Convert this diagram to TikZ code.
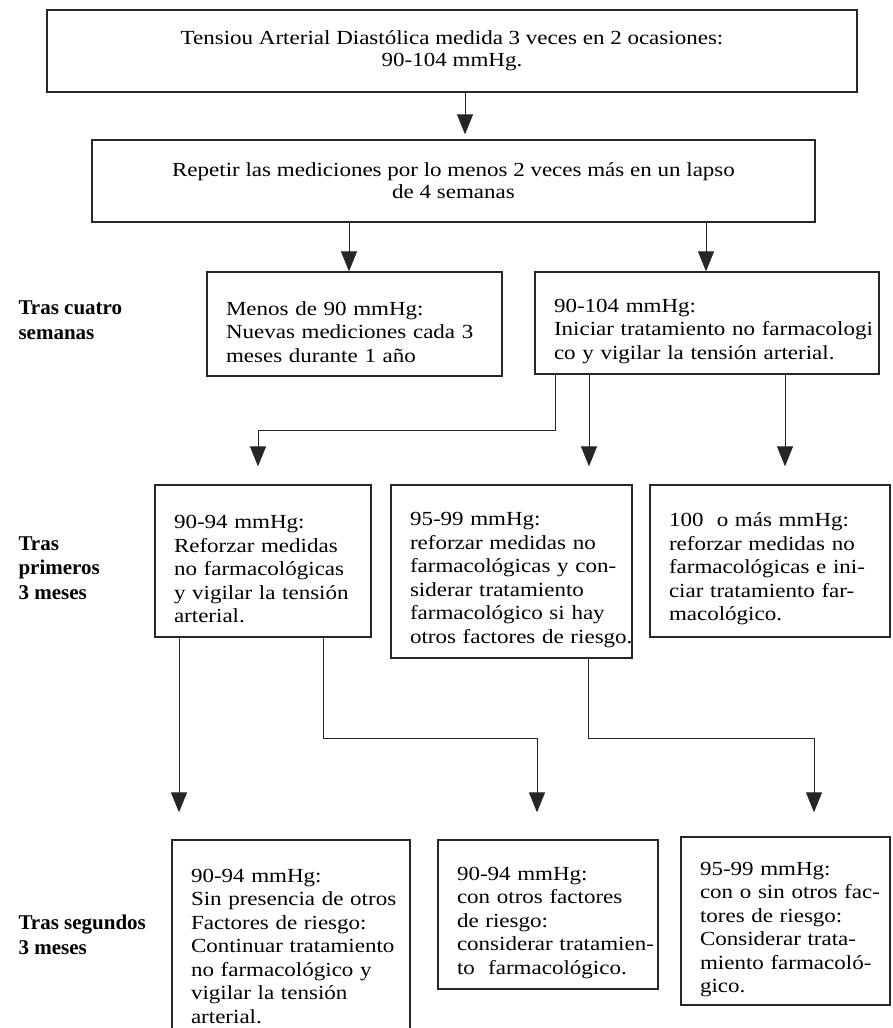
\documentclass[tikz,border=0pt]{standalone}
\usepackage{fontspec}
\setmainfont{Liberation Serif}[FakeStretch=1.15]
\newfontfamily\etiqfont{Liberation Serif}
\usepackage{tikz}
\usetikzlibrary{arrows.meta, positioning, calc}
\tikzset{
  caja/.style={draw=black!85, line width=1.3pt, align=left, inner xsep=19pt, inner ysep=0pt,
    font=\fontsize{20}{23.5}\selectfont,
    execute at begin node={\rightskip=0pt plus 1fil minus 1000pt\rule{0pt}{30pt}}},
  cajac/.style={draw=black!85, line width=1.3pt, align=center, inner sep=0pt,
    font=\fontsize{20}{22}\selectfont},
  etiqueta/.style={anchor=west, align=left, font=\etiqfont\fontsize{21}{24.5}\selectfont\bfseries},
  flecha/.style={draw=black!85, line width=1pt, -{Triangle[width=16pt,length=20pt]}}
}

\begin{document}
\begin{tikzpicture}[x=1pt, y=-1pt]
\useasboundingbox (0,0) rectangle (892,1028);

% Top
\node[cajac, minimum width=810, minimum height=82] (b1) at (452,51)
  {Tensiou Arterial Diastólica medida 3 veces en 2 ocasiones:\\90-104 mmHg.};
\node[cajac, minimum width=723, minimum height=82] (b2) at (453.5,181)
  {Repetir las mediciones por lo menos 2 veces más en un lapso\\de 4 semanas};

% Tras cuatro semanas
\node[etiqueta] (l1) at (15,320) {Tras cuatro\\semanas};
\node[caja, minimum width=295, minimum height=104, text width=257] (b3) at (354.5,324)
  {Menos de 90 mmHg:\\Nuevas mediciones cada 3\\meses durante 1 año};
\node[caja, minimum width=344, minimum height=102, text width=306] (b4) at (707,323)
  {90-104 mmHg:\\Iniciar tratamiento no farmacologi\\co y vigilar la tensión arterial.};

% Tras primeros 3 meses
\node[etiqueta] (l2) at (15,568) {Tras\\primeros\\3 meses};
\node[caja, minimum width=216, minimum height=152, text width=178] (b5) at (263,561)
  {90-94 mmHg:\\Reforzar medidas\\no farmacológicas\\y vigilar la tensión\\arterial.};
\node[caja, minimum width=241, minimum height=173, text width=203] (b6) at (511.5,571.5)
  {95-99 mmHg:\\reforzar medidas no\\farmacológicas y con-\\siderar tratamiento\\farmacológico si hay\\otros factores de riesgo.};
\node[caja, minimum width=240, minimum height=152, text width=202] (b7) at (770,561)
  {100\ \ o más mmHg:\\reforzar medidas no\\farmacológicas e ini-\\ciar tratamiento far-\\macológico.};

% Tras segundos 3 meses
\node[etiqueta] (l3) at (15,935) {Tras segundos\\3 meses};
\node[caja, minimum width=238, minimum height=196, text width=200] (b8) at (291,938)
  {90-94 mmHg:\\Sin presencia de otros\\Factores de riesgo:\\Continuar tratamiento\\no farmacológico y\\vigilar la tensión\\arterial.};
\node[caja, minimum width=220, minimum height=149, text width=182] (b9) at (548,914.5)
  {90-94 mmHg:\\con otros factores\\de riesgo:\\considerar tratamien-\\to\ \ farmacológico.};
\node[caja, minimum width=209, minimum height=168, text width=171] (b10) at (785.5,921)
  {95-99 mmHg:\\con o sin otros fac-\\tores de riesgo:\\Considerar trata-\\miento farmacoló-\\gico.};

% Arrows
\draw[flecha, shorten >=5pt] (465,0 |- b1.south) -- (465,0 |- b2.north);
\draw[flecha] (349,0 |- b2.south) -- (349,0 |- b3.north);
\draw[flecha] (706,0 |- b2.south) -- (706,0 |- b4.north);
\draw[flecha, shorten >=18pt] (555,0 |- b4.south) |- (258,430) -- (258,0 |- b5.north);
\draw[flecha, shorten >=18pt] (589,0 |- b4.south) -- (589,0 |- b6.north);
\draw[flecha, shorten >=18pt] (785,0 |- b4.south) -- (785,0 |- b7.north);
\draw[flecha, shorten >=27pt] (179,0 |- b5.south) -- (179,0 |- b8.north);
\draw[flecha, shorten >=27pt] (323,0 |- b5.south) |- (537,738) -- (537,0 |- b9.north);
\draw[flecha, shorten >=24pt] (588,0 |- b6.south) |- (814,738) -- (814,0 |- b10.north);
\end{tikzpicture}
\end{document}
